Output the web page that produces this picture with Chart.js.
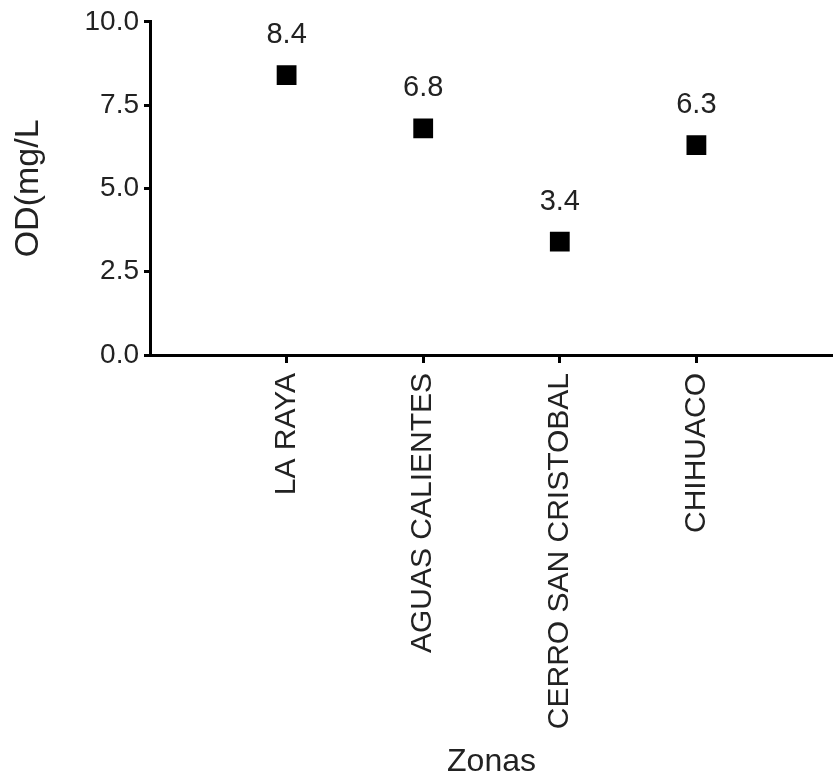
<!DOCTYPE html>
<html>
<head>
<meta charset="utf-8">
<script src="https://cdn.jsdelivr.net/npm/chart.js@4"></script>
<style>
  html, body { margin: 0; padding: 0; background: #fff; }
  canvas { display: block; }
</style>
</head>
<body>
<canvas id="myChart" width="833" height="778"></canvas>
<script>
// data
const zonas = ["LA RAYA", "AGUAS CALIENTES", "CERRO SAN CRISTOBAL", "CHIHUACO"];
const odValues = [8.4, 6.8, 3.4, 6.3];
const yTicks = [0, 2.5, 5, 7.5, 10];

// empty slots at both ends so the points sit one step in from each edge
const labels = ["", ...zonas, ""];
const data = [null, ...odValues, null];

const FONT = "'Liberation Sans', Arial, sans-serif";

const valueLabels = {
    id: "valueLabels",
    afterDatasetsDraw(chart) {
        const ctx = chart.ctx;
        const meta = chart.getDatasetMeta(0);
        ctx.save();
        ctx.font = "29px " + FONT;
        ctx.fillStyle = "#222";
        ctx.textAlign = "center";
        ctx.textBaseline = "middle";
        meta.data.forEach((pt, i) => {
            const v = data[i];
            if (v == null) return;
            ctx.fillText(v.toFixed(1), pt.x, pt.y - 40);
        });
        ctx.restore();
    }
};

const ctx = document.getElementById("myChart");

new Chart(ctx, {
    type: "line",
    data: {
        labels: labels,
        datasets: [{
            data: data,
            showLine: false,
            pointStyle: "rect",
            pointRadius: 14,
            pointHoverRadius: 14,
            backgroundColor: "#000",
            borderColor: "#000",
            borderWidth: 0
        }]
    },
    options: {
        responsive: false,
        animation: false,
        layout: { autoPadding: false, padding: { top: 20, right: 0, bottom: 0, left: 0 } },
        plugins: {
            legend: { display: false },
            tooltip: { enabled: false }
        },
        scales: {
            x: {
                type: "category",
                offset: false,
                border: { color: "#000", width: 3 },
                grid: {
                    drawOnChartArea: false,
                    drawTicks: true,
                    tickLength: 8,
                    lineWidth: 3,
                    color: c => (c.index === 0 || c.index === labels.length - 1) ? "rgba(0,0,0,0)" : "#000"
                },
                ticks: {
                    autoSkip: false,
                    minRotation: 90,
                    maxRotation: 90,
                    padding: 10,
                    color: "#222",
                    font: { family: FONT, size: 30 }
                },
                title: {
                    display: true,
                    text: "Zonas",
                    color: "#222",
                    padding: { top: 0, bottom: 0 },
                    font: { family: FONT, size: 32, lineHeight: 1 }
                },
                afterFit: scale => {
                    scale.height = 423;
                    scale.paddingLeft = 0;
                    scale.paddingRight = 0;
                }
            },
            y: {
                min: 0,
                max: 10,
                afterBuildTicks: scale => { scale.ticks = yTicks.map(v => ({ value: v })); },
                border: { color: "#000", width: 3 },
                grid: {
                    drawOnChartArea: false,
                    drawTicks: true,
                    tickLength: 6,
                    lineWidth: 3,
                    color: "#000"
                },
                ticks: {
                    padding: 5,
                    color: "#222",
                    font: { family: FONT, size: 28 },
                    callback: v => Number(v).toFixed(1)
                },
                title: {
                    display: true,
                    text: "OD(mg/L",
                    color: "#222",
                    padding: { top: 8, bottom: 0 },
                    font: { family: FONT, size: 34 }
                },
                afterFit: scale => { scale.width = 150; }
            }
        }
    },
    plugins: [valueLabels]
});
</script>
</body>
</html>
